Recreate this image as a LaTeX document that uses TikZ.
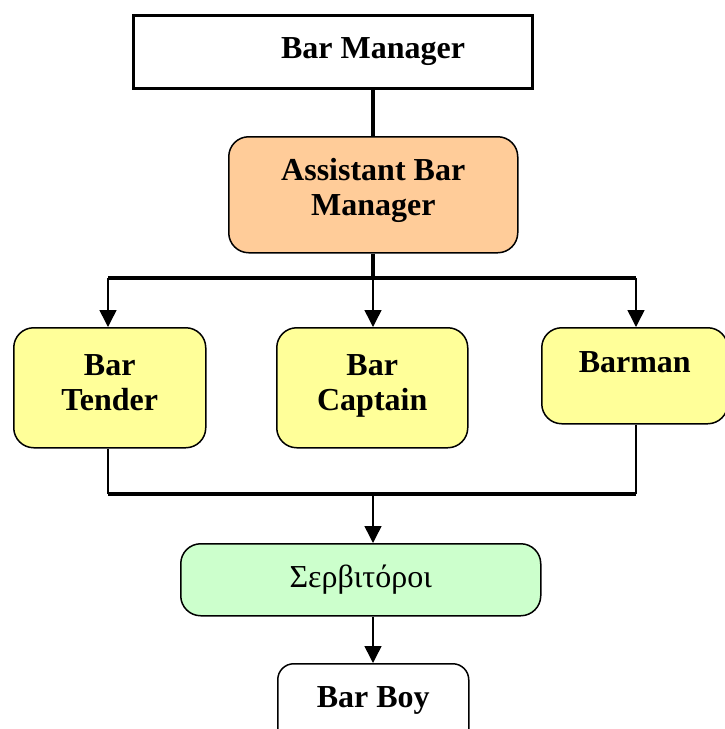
\documentclass[tikz,border=0pt]{standalone}
\usepackage{fontspec}
\setmainfont{Liberation Serif}
\usetikzlibrary{arrows.meta}
\definecolor{peach}{RGB}{255,204,153}
\definecolor{lemon}{RGB}{255,255,153}
\definecolor{mint}{RGB}{204,255,204}
\begin{document}
\begin{tikzpicture}[x=1pt,y=-1pt]
    \useasboundingbox (0,0) rectangle (725,729);

        \begin{scope}[every node/.style={draw,anchor=north west,inner ysep=0pt,inner xsep=0pt,line width=1.5pt,rounded corners=20pt,text height=45pt,align=center,font=\fontsize{32}{35}\selectfont\bfseries}]
            \node[rounded corners=0pt,line width=3pt,minimum width=399pt,text height=43pt,text depth=30pt] (bm) at (132,14) {\hspace*{80pt}Bar Manager};
            \node[fill=peach,minimum width=289pt,text height=79pt,text depth=37pt] (abm) at (228,136) {Assistant Bar\\Manager};
            \node[fill=lemon,minimum width=192pt,text height=83pt,text depth=37pt] (bt) at (13,327) {Bar\\Tender};
            \node[fill=lemon,minimum width=191pt,text height=83pt,text depth=37pt] (bc) at (276,327) {Bar\\Captain};
            \node[fill=lemon,minimum width=186pt,text depth=51pt] (bman) at (541,327) {Barman};
            \node[fill=mint,minimum width=360pt,text height=44pt,text depth=28pt,font=\fontsize{32}{35}\selectfont] (srv) at (180,543) {Σερβιτόροι};
            \node[rounded corners=16pt,minimum width=191pt,text height=44pt,text depth=40pt] (bb) at (277,663) {Bar Boy};
        \end{scope}

        \coordinate (top) at (373,278);
        \coordinate (topl) at (108,278);
        \coordinate (topr) at (636,278);
        \coordinate (low) at (373,494);
        \coordinate (lowl) at (108,494);
        \coordinate (lowr) at (636,494);

        \begin{scope}[line width=3.2pt]
            \draw (bm.south -| top) -- (abm.north -| top);
            \draw (abm.south -| top) -- (top);
            \draw (topl) -- (topr);
            \draw (lowl) -- (lowr);
        \end{scope}

        \begin{scope}[line width=1.5pt,-{Triangle[length=17pt,width=17pt]}]
            \draw (topl) -- (topl |- bt.north);
            \draw (top) -- (top |- bc.north);
            \draw (topr) -- (topr |- bman.north);
            \draw (low) -- (low |- srv.north);
            \draw (srv.south -| low) -- (bb.north -| low);
        \end{scope}

        \draw[line width=1.5pt] (bt.south -| lowl) -- (lowl);
        \draw[line width=1.5pt] (bman.south -| lowr) -- (lowr);

\end{tikzpicture}
\end{document}
